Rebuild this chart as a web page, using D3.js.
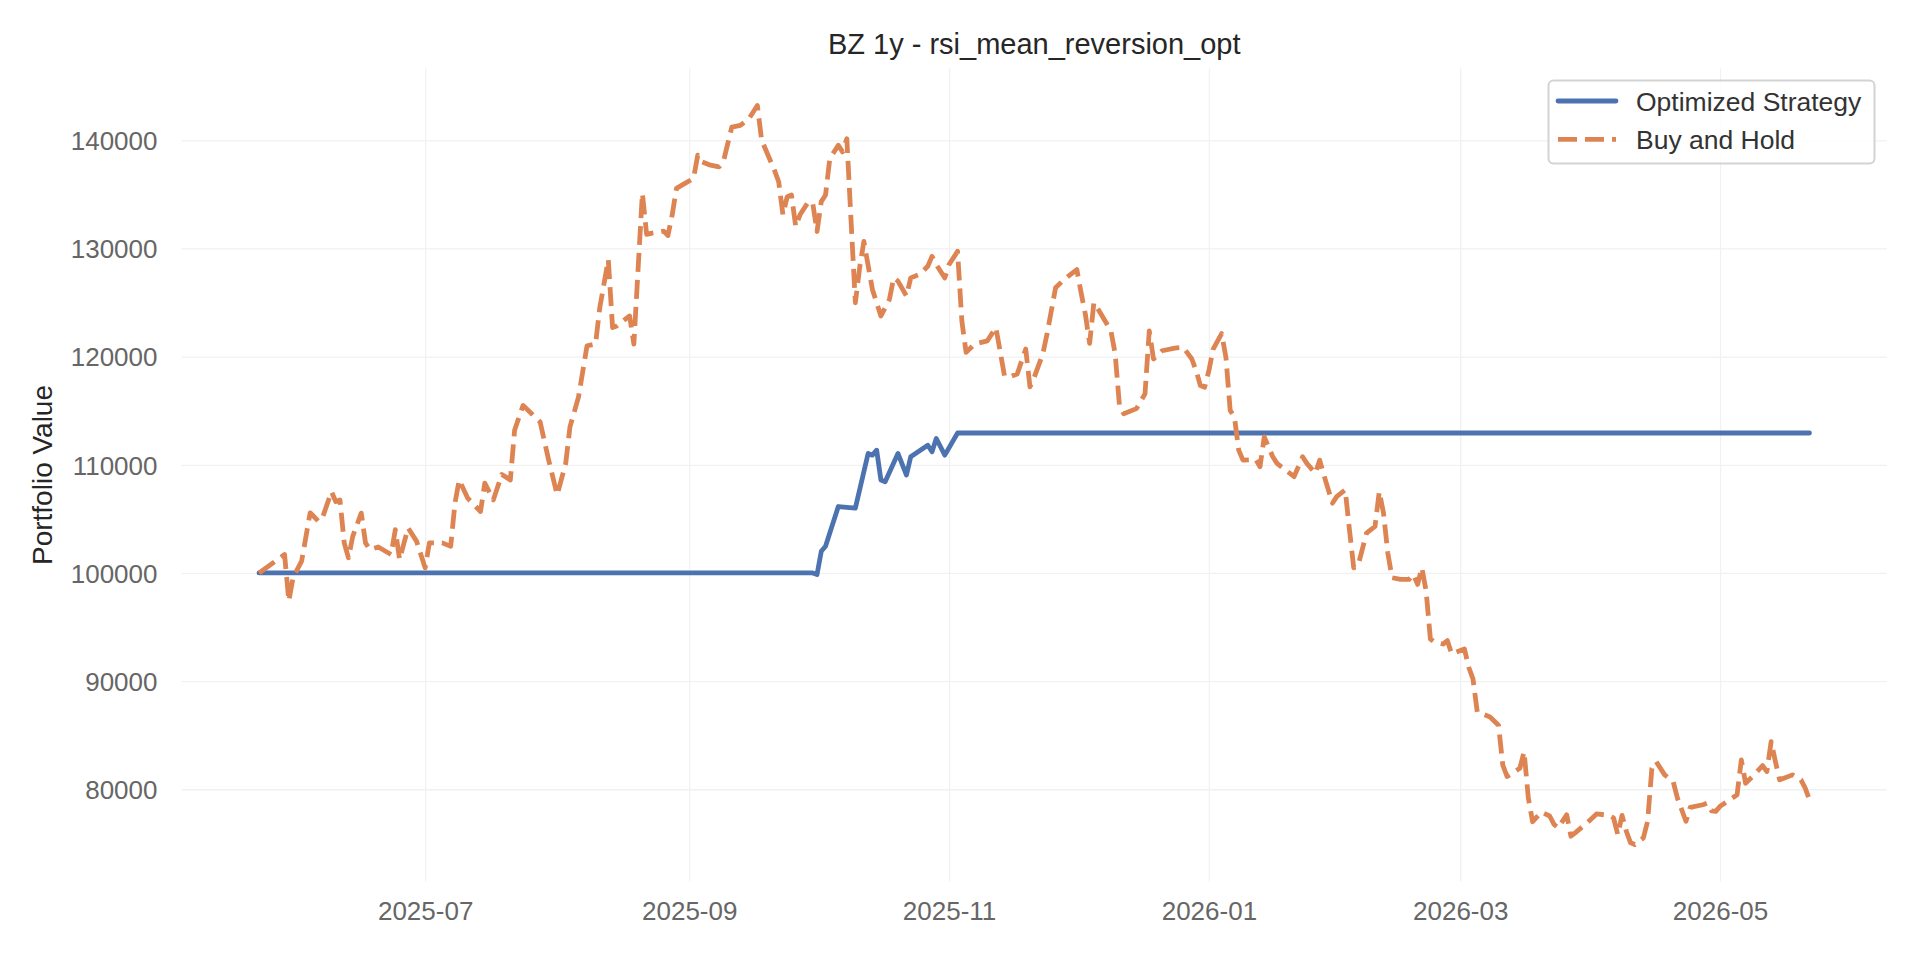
<!DOCTYPE html>
<html>
<head>
<meta charset="utf-8">
<title>BZ 1y - rsi_mean_reversion_opt</title>
<script src="https://cdn.jsdelivr.net/npm/d3@7"></script>
<style>
  html, body { margin: 0; padding: 0; background: #fff; }
  svg { display: block; font-family: "Liberation Sans", Arial, sans-serif; }
</style>
</head>
<body>
<svg id="chart" width="1920" height="960"></svg>
<script>
// Buy and Hold portfolio value
const bhDates = [
  "2025-05-23","2025-05-29","2025-05-30","2025-05-31","2025-06-02","2025-06-04","2025-06-06","2025-06-07",
  "2025-06-09","2025-06-10","2025-06-11","2025-06-12","2025-06-13","2025-06-14","2025-06-16","2025-06-17",
  "2025-06-18","2025-06-20","2025-06-23","2025-06-24","2025-06-25","2025-06-27","2025-06-29","2025-07-01",
  "2025-07-02","2025-07-05","2025-07-07","2025-07-08","2025-07-09","2025-07-11","2025-07-14","2025-07-15",
  "2025-07-17","2025-07-19","2025-07-21","2025-07-22","2025-07-24","2025-07-26","2025-07-28","2025-07-30",
  "2025-08-01","2025-08-03","2025-08-04","2025-08-06","2025-08-08","2025-08-10","2025-08-11","2025-08-13",
  "2025-08-14","2025-08-15","2025-08-18","2025-08-19","2025-08-21","2025-08-22","2025-08-23","2025-08-26",
  "2025-08-27","2025-08-28","2025-08-29","2025-08-31","2025-09-02","2025-09-03","2025-09-04","2025-09-06",
  "2025-09-08","2025-09-09","2025-09-11","2025-09-13","2025-09-15","2025-09-17","2025-09-18","2025-09-21",
  "2025-09-22","2025-09-23","2025-09-24","2025-09-25","2025-09-26","2025-09-27","2025-09-29","2025-09-30",
  "2025-10-01","2025-10-02","2025-10-03","2025-10-04","2025-10-06","2025-10-07","2025-10-08","2025-10-09",
  "2025-10-10","2025-10-11","2025-10-12","2025-10-14","2025-10-16","2025-10-18","2025-10-19","2025-10-20",
  "2025-10-22","2025-10-23","2025-10-25","2025-10-27","2025-10-28","2025-10-29","2025-10-31","2025-11-01",
  "2025-11-03","2025-11-04","2025-11-05","2025-11-07","2025-11-10","2025-11-12","2025-11-14","2025-11-15",
  "2025-11-17","2025-11-19","2025-11-20","2025-11-21","2025-11-23","2025-11-24","2025-11-26","2025-11-28",
  "2025-12-01","2025-12-02","2025-12-03","2025-12-04","2025-12-05","2025-12-06","2025-12-09","2025-12-10",
  "2025-12-11","2025-12-12","2025-12-15","2025-12-17","2025-12-18","2025-12-19","2025-12-21","2025-12-24",
  "2025-12-26","2025-12-28","2025-12-29","2025-12-30","2025-12-31","2026-01-01","2026-01-02","2026-01-04",
  "2026-01-05","2026-01-06","2026-01-07","2026-01-08","2026-01-09","2026-01-12","2026-01-13","2026-01-14",
  "2026-01-16","2026-01-17","2026-01-19","2026-01-21","2026-01-23","2026-01-24","2026-01-26","2026-01-27",
  "2026-01-28","2026-01-30","2026-01-31","2026-02-02","2026-02-03","2026-02-04","2026-02-05","2026-02-07",
  "2026-02-09","2026-02-10","2026-02-11","2026-02-12","2026-02-13","2026-02-15","2026-02-17","2026-02-18",
  "2026-02-19","2026-02-20","2026-02-21","2026-02-22","2026-02-23","2026-02-25","2026-02-26","2026-02-27",
  "2026-03-02","2026-03-03","2026-03-04","2026-03-05","2026-03-08","2026-03-10","2026-03-11","2026-03-12",
  "2026-03-15","2026-03-16","2026-03-17","2026-03-18","2026-03-20","2026-03-22","2026-03-23","2026-03-24",
  "2026-03-26","2026-03-27","2026-03-28","2026-03-31","2026-04-02","2026-04-05","2026-04-06","2026-04-07",
  "2026-04-08","2026-04-09","2026-04-10","2026-04-11","2026-04-13","2026-04-14","2026-04-15","2026-04-16",
  "2026-04-18","2026-04-20","2026-04-21","2026-04-22","2026-04-23","2026-04-24","2026-04-27","2026-04-28",
  "2026-04-29","2026-04-30","2026-05-01","2026-05-03","2026-05-05","2026-05-06","2026-05-07","2026-05-09",
  "2026-05-11","2026-05-12","2026-05-13","2026-05-14","2026-05-15","2026-05-16","2026-05-18","2026-05-20",
  "2026-05-21","2026-05-22"
];
const bhValues = [
  100000,101700,97400,99600,101090,105560,104760,105220,
  107520,106600,106750,102780,101400,103380,105530,102780,
  102160,102400,101700,104000,101240,104170,102920,100470,
  102780,102780,102470,106450,108600,106910,105680,108300,
  106750,109100,108600,113200,115490,114720,113950,110430,
  107220,110130,113500,116250,121000,121160,124530,128970,
  122690,122840,123760,121160,135100,131300,131400,131600,
  131200,133110,135550,136010,136470,138620,138010,137700,
  137550,138010,141220,141380,141990,143220,140000,137240,
  136170,133110,134790,134940,132030,133110,134330,134170,
  131570,134330,134940,138310,139540,138930,140150,132490,
  124980,128200,130650,126210,123760,125290,127280,126980,
  125600,127280,127590,128350,129270,128510,127280,128510,
  129730,123300,120390,121160,121460,122690,118240,118090,
  118400,120700,117200,118090,120240,122080,126360,127130,
  128050,125900,123920,121220,124980,124380,122380,120240,
  115490,114720,115190,116560,122380,119780,120540,120790,
  120850,119780,118700,117330,117170,118700,120700,122130,
  119930,115030,114410,111350,110430,110500,109820,112580,
  110740,110130,109510,108900,110740,110130,109210,110430,
  109050,106450,107060,107680,104000,100480,100630,103690,
  104300,107520,105530,101860,99560,99400,99400,99860,
  98940,100480,98330,93890,93590,93430,93740,92510,
  92970,91280,90210,87150,86690,85920,82240,81180,
  81940,83470,79180,77000,77900,77530,76770,76430,
  77650,75660,75970,76980,77720,77590,77350,75810,
  77590,76120,75050,74890,75500,77040,81940,82560,
  81330,80720,79180,78110,77040,78330,78570,78720,
  78010,77960,78420,78940,79490,82710,80560,81330,
  82190,81640,84400,82560,80870,81020,81330,80870,
  80100,79030
];

// Optimized Strategy: flat while out of the market
const stratDates = [
  "2025-05-23","2025-09-30","2025-10-01","2025-10-02","2025-10-03","2025-10-06","2025-10-10","2025-10-13",
  "2025-10-14","2025-10-15","2025-10-16","2025-10-17","2025-10-20","2025-10-22","2025-10-23","2025-10-27",
  "2025-10-28","2025-10-29","2025-10-31","2025-11-03","2026-05-22"
];
const stratValues = [
  100000,100000,99850,102000,102470,106140,105990,111050,
  110890,111350,108600,108440,111050,109050,110740,111810,
  111200,112430,110890,112940,112940
];

const yTicks = [80000, 90000, 100000, 110000, 120000, 130000, 140000];
const xTicks = ["2025-07-01", "2025-09-01", "2025-11-01", "2026-01-01", "2026-03-01", "2026-05-01"];

const seriesNames = ["Optimized Strategy", "Buy and Hold"];
const seriesColors = ["#4c72b0", "#dd8452"];

const parse = d3.timeParse("%Y-%m-%d");
const bh = bhDates.map((d, i) => ({ date: parse(d), value: bhValues[i] }));
const strat = stratDates.map((d, i) => ({ date: parse(d), value: stratValues[i] }));

const W = 1920, H = 960;
const margin = { left: 181.5, right: 33, top: 68.5, bottom: 78.5 };
const innerW = W - margin.left - margin.right;
const innerH = H - margin.top - margin.bottom;

const svg = d3.select("#chart");

// matplotlib style 5% padding around the data
const all = bh.concat(strat);
const [t0, t1] = d3.extent(all, (d) => d.date);
const tPad = (t1 - t0) * 0.05;
const [v0, v1] = d3.extent(all, (d) => d.value);
const vPad = (v1 - v0) * 0.05;

const x = d3.scaleTime()
  .domain([new Date(+t0 - tPad), new Date(+t1 + tPad)])
  .range([margin.left, margin.left + innerW]);

const y = d3.scaleLinear()
  .domain([v0 - vPad, v1 + vPad])
  .range([margin.top + innerH, margin.top]);

// grid
const xAxis = d3.axisBottom(x)
  .tickValues(xTicks.map(parse))
  .tickFormat(d3.timeFormat("%Y-%m"))
  .tickSize(-innerH)
  .tickPadding(20);

const yAxis = d3.axisLeft(y)
  .tickValues(yTicks)
  .tickFormat((d) => String(d))
  .tickSize(-innerW)
  .tickPadding(24);

const gx = svg.append("g")
  .attr("transform", `translate(0,${margin.top + innerH})`)
  .call(xAxis);

const gy = svg.append("g")
  .attr("transform", `translate(${margin.left},0)`)
  .call(yAxis);

[gx, gy].forEach((g) => {
  g.select(".domain").remove();
  g.selectAll(".tick line")
    .attr("stroke", "#f1f1f1")
    .attr("stroke-width", 1.3);
  g.selectAll(".tick text")
    .attr("fill", "#666")
    .style("font-size", "26px");
});
gx.selectAll(".tick text").attr("dy", "0.71em");
gy.selectAll(".tick text").attr("dy", "0.36em");

// lines
const line = d3.line()
  .x((d) => x(d.date))
  .y((d) => y(d.value));

svg.append("path")
  .datum(strat)
  .attr("fill", "none")
  .attr("stroke", seriesColors[0])
  .attr("stroke-width", 4.8)
  .attr("stroke-linejoin", "round")
  .attr("stroke-linecap", "round")
  .attr("d", line);

svg.append("path")
  .datum(bh)
  .attr("fill", "none")
  .attr("stroke", seriesColors[1])
  .attr("stroke-width", 4.8)
  .attr("stroke-linejoin", "round")
  .attr("stroke-dasharray", "19,8")
  .attr("d", line);

// title and axis label
svg.append("text")
  .attr("x", margin.left + innerW / 2)
  .attr("y", 53.5)
  .attr("text-anchor", "middle")
  .attr("fill", "#262626")
  .style("font-size", "29px")
  .text("BZ 1y - rsi_mean_reversion_opt");

svg.append("text")
  .attr("transform", `translate(52,${margin.top + innerH / 2}) rotate(-90)`)
  .attr("text-anchor", "middle")
  .attr("fill", "#262626")
  .style("font-size", "28px")
  .text("Portfolio Value");

// legend
const legend = svg.append("g");
legend.append("rect")
  .attr("x", 1548.5)
  .attr("y", 80.5)
  .attr("width", 326)
  .attr("height", 83)
  .attr("rx", 5)
  .attr("fill", "#fff")
  .attr("fill-opacity", 0.8)
  .attr("stroke", "#d3d3d3")
  .attr("stroke-width", 2);

const rows = legend.selectAll("g.row")
  .data(seriesNames)
  .enter()
  .append("g")
  .attr("transform", (d, i) => `translate(0,${101 + i * 38.3})`);

rows.append("line")
  .attr("x1", 1558)
  .attr("x2", 1616)
  .attr("stroke", (d, i) => seriesColors[i])
  .attr("stroke-width", 4.8)
  .attr("stroke-linecap", (d, i) => (i === 0 ? "round" : "butt"))
  .attr("stroke-dasharray", (d, i) => (i === 0 ? null : "19,8"));

rows.append("text")
  .attr("x", 1636)
  .attr("dy", "0.36em")
  .attr("fill", "#333")
  .style("font-size", "26.5px")
  .text((d) => d);
</script>
</body>
</html>
